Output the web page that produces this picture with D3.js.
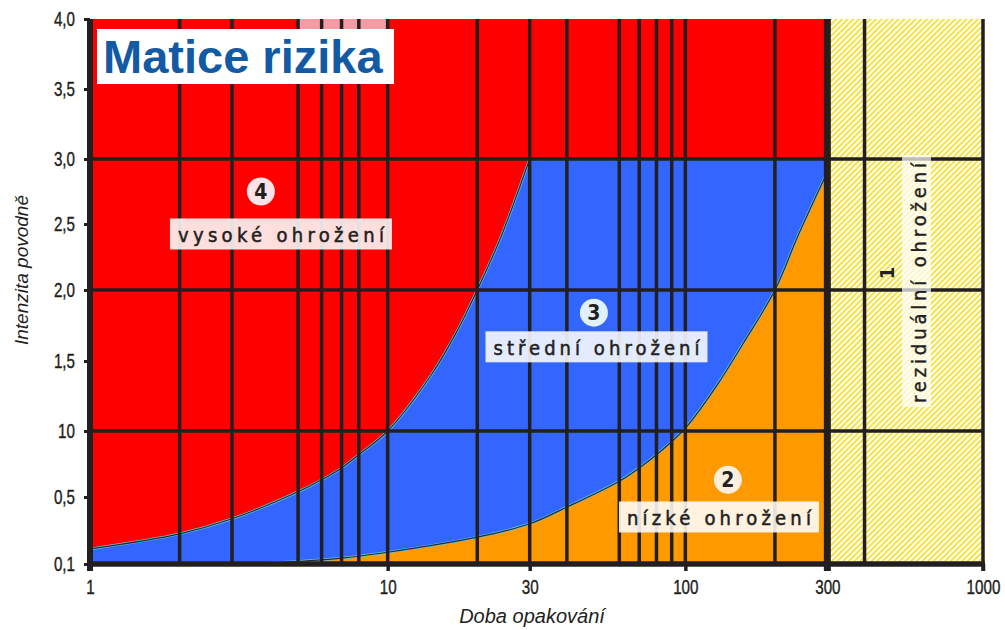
<!DOCTYPE html>
<html>
<head>
<meta charset="utf-8">
<script src="https://cdn.jsdelivr.net/npm/d3@7"></script>
<style>
  body { margin: 0; background: #fff; }
  svg { display: block; }
</style>
</head>
<body>
<svg id="chart" width="1005" height="630"></svg>
<script>
// data
var xTicks = [1, 10, 30, 100, 300, 1000];
var yTicks = [0.1, 0.5, 1, 1.5, 2, 2.5, 3, 3.5, 4];
var yTickLabels = ["0,1", "0,5", "10", "1,5", "2,0", "2,5", "3,0", "3,5", "4,0"];
var gridX = [2, 3, 5, 6, 7, 8, 10, 20, 30, 40, 60, 70, 80, 90, 100, 200, 400];
var gridY = [1, 2, 3];

// red / blue boundary
var upperX = [1, 2, 3, 5, 6, 7, 8, 10, 14, 17, 20, 24, 30];
var upperY = [0.19, 0.28, 0.37, 0.54, 0.63, 0.72, 0.82, 1.0, 1.4, 1.7, 2.0, 2.4, 3.0];
// blue / orange boundary
var lowerX = [1, 3, 5, 7, 10, 20, 30, 40, 60, 70, 80, 90, 100, 128, 156, 200, 240, 300];
var lowerY = [0.1, 0.1, 0.115, 0.135, 0.17, 0.26, 0.34, 0.44, 0.62, 0.72, 0.82, 0.92, 1.02, 1.33, 1.62, 2.0, 2.42, 2.9];

// zone labels: circle position and text position in data units
var zones = [
  {num: "4", text: "vysoké ohrožení", cx: 3.75, cy: 2.75, tx: 4.38, ty: 2.36, fill: "#fde3e7", len: 206},
  {num: "3", text: "střední ohrožení", cx: 49.3, cy: 1.84, tx: 50.3, ty: 1.54, fill: "#e0f1fc", len: 206},
  {num: "2", text: "nízké ohrožení", cx: 139, cy: 0.63, tx: 129.7, ty: 0.33, fill: "#fdeedd", len: 184}
];

var ink = "#231f20";
var svg = d3.select("svg");

var x = d3.scaleLog().domain([1, 1000]).range([90, 983]);
var y = d3.scaleLinear().domain(yTicks).range([564, 497, 431, 361, 290, 224, 159, 89, 19]);

var defs = svg.append("defs");
var pat = defs.append("pattern")
    .attr("id", "hatch")
    .attr("patternUnits", "userSpaceOnUse")
    .attr("width", 4).attr("height", 4)
    .attr("patternTransform", "rotate(45)");
pat.append("rect").attr("width", 4).attr("height", 4).attr("fill", "#fff");
pat.append("rect").attr("width", 2.1).attr("height", 4).attr("fill", "#f6e244");

var g = svg.append("g");

// zones
g.append("rect")
    .attr("x", x(300)).attr("y", y(4))
    .attr("width", x(1000) - x(300)).attr("height", y(0.1) - y(4))
    .attr("fill", "url(#hatch)");

g.append("rect")
    .attr("x", x(1)).attr("y", y(4))
    .attr("width", x(300) - x(1)).attr("height", y(0.1) - y(4))
    .attr("fill", "#fe0000");

g.append("rect")
    .attr("x", x(5)).attr("y", y(4))
    .attr("width", x(10) - x(5)).attr("height", 10)
    .attr("fill", "#f59ba4");

var upper = upperX.map(function(d, i) { return [d, upperY[i]]; });
var lower = lowerX.map(function(d, i) { return [d, lowerY[i]]; });

var smooth = d3.curveCatmullRom.alpha(0.5);

var area = d3.area()
    .x(function(d) { return x(d[0]); })
    .y0(y(0.1))
    .y1(function(d) { return y(d[1]); })
    .curve(smooth);

var line = d3.line()
    .x(function(d) { return x(d[0]); })
    .y(function(d) { return y(d[1]); })
    .curve(smooth);

// blue: curved part + flat cap at 3.0
g.append("path").datum(upper).attr("d", area).attr("fill", "#3366fe");
g.append("rect")
    .attr("x", x(30) - 0.5).attr("y", y(3))
    .attr("width", x(300) - x(30) + 0.5).attr("height", y(0.1) - y(3))
    .attr("fill", "#3366fe");
g.append("path").datum(lower).attr("d", area).attr("fill", "#fe9900");

[upper, lower].forEach(function(c) {
  g.append("path").datum(c).attr("d", line)
      .attr("fill", "none").attr("stroke", "#62c3e0").attr("stroke-width", 2.6);
  g.append("path").datum(c).attr("d", line)
      .attr("fill", "none").attr("stroke", "#2a2a2a").attr("stroke-width", 1.2);
});

// grid
g.selectAll(".vgrid").data(gridX).enter().append("line")
    .attr("x1", function(d) { return x(d); }).attr("x2", function(d) { return x(d); })
    .attr("y1", y(4)).attr("y2", y(0.1))
    .attr("stroke", ink).attr("stroke-width", 3.5);

g.selectAll(".hgrid").data(gridY).enter().append("line")
    .attr("x1", x(1)).attr("x2", x(1000))
    .attr("y1", function(d) { return y(d); }).attr("y2", function(d) { return y(d); })
    .attr("stroke", ink).attr("stroke-width", 3.5);

g.append("line")
    .attr("x1", x(300)).attr("x2", x(300)).attr("y1", y(4)).attr("y2", y(0.1) + 7)
    .attr("stroke", ink).attr("stroke-width", 7);
g.append("line")
    .attr("x1", x(1000)).attr("x2", x(1000)).attr("y1", y(4)).attr("y2", y(0.1) + 7)
    .attr("stroke", ink).attr("stroke-width", 3.5);

g.append("line")
    .attr("x1", x(1)).attr("x2", x(1)).attr("y1", y(4)).attr("y2", y(0.1) + 7)
    .attr("stroke", ink).attr("stroke-width", 6);
g.append("line")
    .attr("x1", x(1) - 3).attr("x2", x(1000) + 2).attr("y1", y(0.1)).attr("y2", y(0.1))
    .attr("stroke", ink).attr("stroke-width", 5.5);

// axes, narrow tick labels
var squeeze = 0.76;
var tickFont = "20px 'Liberation Sans', Arial, sans-serif";

var yAxis = svg.append("g")
    .attr("transform", "translate(" + x(1) + ",0)")
    .call(d3.axisLeft(y).tickValues(yTicks).tickSize(6).tickPadding(9)
      .tickFormat(function(d, i) { return yTickLabels[i]; }));
yAxis.select(".domain").remove();
yAxis.selectAll("line").attr("stroke", ink).attr("stroke-width", 3);
yAxis.selectAll("text")
    .attr("fill", ink).style("font", tickFont)
    .attr("stroke", ink).attr("stroke-width", 0.4)
    .attr("x", -15 / squeeze)
    .attr("transform", "scale(" + squeeze + ",1)");

var xAxis = svg.append("g")
    .attr("transform", "translate(0," + y(0.1) + ")")
    .call(d3.axisBottom(x).tickValues(xTicks).tickSize(7).tickPadding(9)
      .tickFormat(d3.format("d")));
xAxis.select(".domain").remove();
xAxis.selectAll("line").attr("stroke", ink).attr("stroke-width", 3.5);
xAxis.selectAll("text")
    .attr("fill", ink).style("font", tickFont)
    .attr("stroke", ink).attr("stroke-width", 0.4)
    .attr("transform", "scale(" + squeeze + ",1)");

// axis titles
svg.append("text")
    .attr("x", 532).attr("y", 623)
    .attr("text-anchor", "middle")
    .style("font", "italic 20px 'Liberation Sans', Arial, sans-serif")
    .attr("fill", ink)
    .text("Doba opakování");

svg.append("text")
    .attr("transform", "translate(28,270) rotate(-90)")
    .attr("text-anchor", "middle")
    .style("font", "italic 19px 'Liberation Sans', Arial, sans-serif")
    .attr("fill", ink)
    .text("Intenzita povodně");

// title
svg.append("rect")
    .attr("x", 97).attr("y", 29).attr("width", 297).attr("height", 55)
    .attr("fill", "#fff");
svg.append("text")
    .attr("x", 103).attr("y", 73)
    .style("font", "bold 47px 'Liberation Sans', Arial, sans-serif")
    .attr("fill", "#125aa3")
    .text("Matice rizika");

// zone labels
var labelFont = "20px 'DejaVu Sans Condensed', 'Liberation Sans Narrow', 'Liberation Sans', sans-serif";
zones.forEach(function(z) {
  var tx = x(z.tx), ty = y(z.ty);
  svg.append("rect")
      .attr("x", tx - z.len / 2 - 8).attr("y", ty - 24)
      .attr("width", z.len + 16).attr("height", 31)
      .attr("fill", "#fff").attr("fill-opacity", 0.87);
  svg.append("text")
      .attr("x", tx - z.len / 2).attr("y", ty)
      .attr("textLength", z.len).attr("lengthAdjust", "spacing")
      .style("font", labelFont).style("font-stretch", "condensed")
      .attr("fill", ink).attr("stroke", ink).attr("stroke-width", 0.5)
      .text(z.text);
  svg.append("circle")
      .attr("cx", x(z.cx)).attr("cy", y(z.cy)).attr("r", 14)
      .attr("fill", z.fill);
  svg.append("text")
      .attr("x", x(z.cx)).attr("y", y(z.cy) + 7.5)
      .attr("text-anchor", "middle")
      .style("font", "bold 21px 'DejaVu Sans Condensed', 'Liberation Sans', sans-serif")
      .style("font-stretch", "condensed")
      .attr("fill", ink)
      .text(z.num);
});

// residual zone label (rotated)
var rx = 918, ry = 283;
svg.append("rect")
    .attr("x", rx - 16).attr("y", ry - 128)
    .attr("width", 29).attr("height", 252)
    .attr("fill", "#fff").attr("fill-opacity", 0.7);
svg.append("text")
    .attr("transform", "translate(" + (rx + 8) + "," + (ry + 120) + ") rotate(-90)")
    .attr("textLength", 240).attr("lengthAdjust", "spacing")
    .style("font", labelFont).style("font-stretch", "condensed")
    .attr("fill", ink).attr("stroke", ink).attr("stroke-width", 0.4)
    .text("reziduální ohrožení");
svg.append("text")
    .attr("transform", "translate(" + (rx - 24) + "," + (ry - 10) + ") rotate(-90)")
    .attr("text-anchor", "middle")
    .style("font", "bold 20px 'DejaVu Sans Condensed', 'Liberation Sans', sans-serif")
    .style("font-stretch", "condensed")
    .attr("fill", ink)
    .text("1");
</script>
</body>
</html>
